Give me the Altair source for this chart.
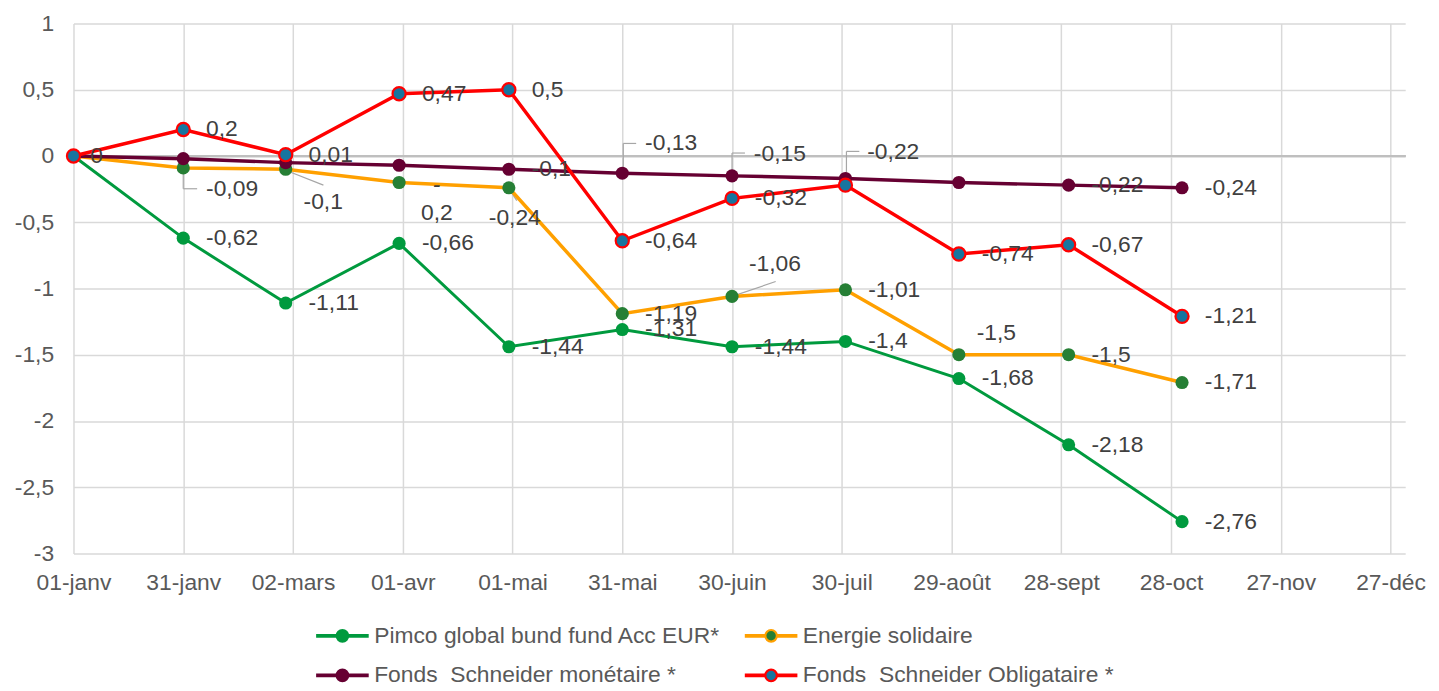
import altair as alt
import pandas as pd

# ---------------- data ----------------
DAYS = [0, 30, 58, 89, 119, 150, 180, 211, 242, 272, 303]   # day of year of each observation
SERIES = [
    "Pimco global bund fund Acc EUR*",
    "Energie solidaire",
    "Fonds  Schneider monétaire *",
    "Fonds  Schneider Obligataire *",
]
PIMCO = [0, -0.62, -1.11, -0.66, -1.44, -1.31, -1.44, -1.4, -1.68, -2.18, -2.76]
ENERGIE = [0, -0.09, -0.1, -0.2, -0.24, -1.19, -1.06, -1.01, -1.5, -1.5, -1.71]
MONETAIRE = [0, -0.02, -0.05, -0.07, -0.1, -0.13, -0.15, -0.17, -0.2, -0.22, -0.24]
OBLIGATAIRE = [0, 0.2, 0.01, 0.47, 0.5, -0.64, -0.32, -0.22, -0.74, -0.67, -1.21]

# which points carry a visible data label
SHOW_PIMCO = [1, 1, 1, 1, 1, 1, 1, 1, 1, 1, 1]
SHOW_ENERGIE = [0, 1, 1, 1, 1, 1, 1, 1, 1, 1, 1]
SHOW_MONETAIRE = [0, 0, 0, 0, 1, 1, 1, 0, 0, 1, 1]
SHOW_OBLIGATAIRE = [0, 1, 1, 1, 1, 1, 1, 1, 1, 1, 1]

TICK_DAYS = [0, 30, 60, 90, 120, 150, 180, 210, 240, 270, 300, 330, 360]
TICK_LABELS = ["01-janv", "31-janv", "02-mars", "01-avr", "01-mai", "31-mai", "30-juin",
               "30-juil", "29-août", "28-sept", "28-oct", "27-nov", "27-déc"]
Y_TICKS = [-3, -2.5, -2, -1.5, -1, -0.5, 0, 0.5, 1]

# ---------------- style ----------------
FONT = "Liberation Sans"
LINE_COLORS = ["#009a3e", "#ffa000", "#660032", "#ff0000"]
MARKER_FILLS = ["#009a3e", "#267f35", "#660032", "#17759f"]
LINE_WIDTHS = [3, 3.5, 3.5, 3.5]

# special label placements: (series index, point index) -> offsets in pixels
LABEL_PLACEMENT = {
    (0, 0): dict(dx=17, dy=0, align="left"),
    (1, 1): dict(dx=23, dy=21, align="left"),
    (1, 2): dict(dx=18, dy=33, align="left"),
    (1, 3): dict(dx=38, dy=3, align="center", wrap=True),
    (1, 4): dict(dx=6, dy=31, align="center"),
    (1, 6): dict(dx=17, dy=-33, align="left"),
    (1, 8): dict(dx=18, dy=-22, align="left"),
    (2, 5): dict(dx=23, dy=-30, align="left"),
    (2, 6): dict(dx=22, dy=-22, align="left"),
    (3, 7): dict(dx=22, dy=-33, align="left"),
}
# leader lines: (series index, point index) -> segments (x1, y1, x2, y2) in pixel offsets
LEADERS = {
    (1, 1): [(0, 3, 0, 21), (0, 21, 14, 21)],
    (1, 2): [(0, 1, 38, 16)],
    (1, 4): [(0, 1, 8, 13)],
    (1, 6): [(0, 0, 44, -15)],
    (2, 5): [(1, -2, 1, -30), (1, -30, 14, -30)],
    (2, 6): [(0, -5, 0, -23), (0, -23, 13, -23)],
    (3, 7): [(1, -8, 1, -34), (1, -34, 14, -34)],
}


def fmt(v):
    return ("%g" % v).replace(".", ",")


rows = []
for s, (vals, shows) in enumerate(zip([PIMCO, ENERGIE, MONETAIRE, OBLIGATAIRE],
                                      [SHOW_PIMCO, SHOW_ENERGIE, SHOW_MONETAIRE, SHOW_OBLIGATAIRE])):
    for i, (d, v, sh) in enumerate(zip(DAYS, vals, shows)):
        place = LABEL_PLACEMENT.get((s, i))
        lab = fmt(v)
        if place and place.get("wrap"):
            lab = lab.replace("-", "-\n", 1)
        rows.append(dict(series=SERIES[s], sidx=s, idx=i, day=d, value=v,
                         label=lab, show=sh, special=1 if place else 0))
df = pd.DataFrame(rows)

x_enc = alt.X("day:Q", scale=alt.Scale(domain=[0, 364], nice=False, zero=False),
              axis=alt.Axis(values=TICK_DAYS, title=None, grid=True, gridColor="#d9d9d9",
                            gridWidth=1.5, domain=False, ticks=False, labelFont=FONT,
                            labelFontSize=23, labelColor="#595959", labelPadding=18,
                            labelFlush=False, labelOverlap=False,
                            labelExpr=str(TICK_LABELS) + "[round(datum.value/30)]"))
y_enc = alt.Y("value:Q", scale=alt.Scale(domain=[-3, 1], nice=False, zero=False),
              axis=alt.Axis(values=Y_TICKS, title=None, grid=True, gridColor="#d9d9d9",
                            gridWidth=1.5, domain=False, ticks=False, labelFont=FONT,
                            labelFontSize=23, labelColor="#595959", labelPadding=20,
                            labelExpr="replace(toString(datum.value), '.', ',')"))

# legend symbol: a thick line (two thin parallel strokes) broken by a ringed marker
LEGEND_SYMBOL = ("M-1,-0.03L-0.22,-0.03M-1,0.03L-0.22,0.03"
                 "M0.22,-0.03L1,-0.03M0.22,0.03L1,0.03"
                 "M-0.22,0A0.22,0.22,0,1,1,0.22,0A0.22,0.22,0,1,1,-0.22,0Z")
legend = alt.Legend(
    title=None, orient="none", legendX=243, legendY=589, columns=2, direction="horizontal",
    symbolType=LEGEND_SYMBOL,
    symbolSize=2809, symbolStrokeWidth=2.2, labelFont=FONT, labelFontSize=23,
    labelColor="#595959", labelOffset=4, columnPadding=19, rowPadding=-12,
    labelLimit=600, labelExpr="replace(datum.label, '  ', '\u00a0 ')",
)
stroke_scale = alt.Scale(domain=SERIES, range=LINE_COLORS)
fill_scale = alt.Scale(domain=SERIES, range=MARKER_FILLS)

base = alt.Chart(df)

layers = []
# axis line at zero
layers.append(base.mark_rule(color="#bfbfbf", strokeWidth=1.5).encode(y=alt.datum(0)))

# leader lines
for (s, i), segs in LEADERS.items():
    for (a, b, c, d) in segs:
        layers.append(
            base.transform_filter(f"datum.sidx == {s} && datum.idx == {i}")
            .mark_rule(color="#a6a6a6", strokeWidth=1.2, xOffset=a, yOffset=b, x2Offset=c, y2Offset=d)
            .encode(x=x_enc, x2="day:Q", y=y_enc, y2="value:Q")
        )

# series: line then markers
for s in range(4):
    sub = base.transform_filter(f"datum.sidx == {s}")
    layers.append(
        sub.mark_line(strokeWidth=LINE_WIDTHS[s]).encode(
            x=x_enc, y=y_enc,
            stroke=alt.Stroke("series:N", scale=stroke_scale, legend=legend),
        )
    )
    pt_kwargs = dict(size=175, opacity=1)
    if s == 3:
        pt_kwargs.update(stroke=LINE_COLORS[3], strokeWidth=2.2)
    layers.append(
        sub.mark_circle(**pt_kwargs).encode(
            x=x_enc, y=y_enc,
            fill=alt.Fill("series:N", scale=fill_scale, legend=legend),
        )
    )

# data labels (default placement)
layers.append(
    base.transform_filter("datum.show == 1 && datum.special == 0")
    .mark_text(font=FONT, fontSize=23, color="#404040", align="left", baseline="middle", dx=23)
    .encode(x=x_enc, y=y_enc, text="label:N")
)
# special placements
for (s, i), p in LABEL_PLACEMENT.items():
    layers.append(
        base.transform_filter(f"datum.sidx == {s} && datum.idx == {i} && datum.show == 1")
        .mark_text(font=FONT, fontSize=23, color="#404040", align=p["align"], baseline="middle",
                   dx=p["dx"], dy=p["dy"], lineBreak="\n", lineHeight=28)
        .encode(x=x_enc, y=y_enc, text="label:N")
    )

chart = alt.layer(*layers).properties(
    width=1342, height=534,
    padding={"left": 6, "top": 2, "right": 5, "bottom": 0},
).configure_view(stroke=None)

chart.save("out.html", embed_options={"renderer": "svg", "actions": False})
